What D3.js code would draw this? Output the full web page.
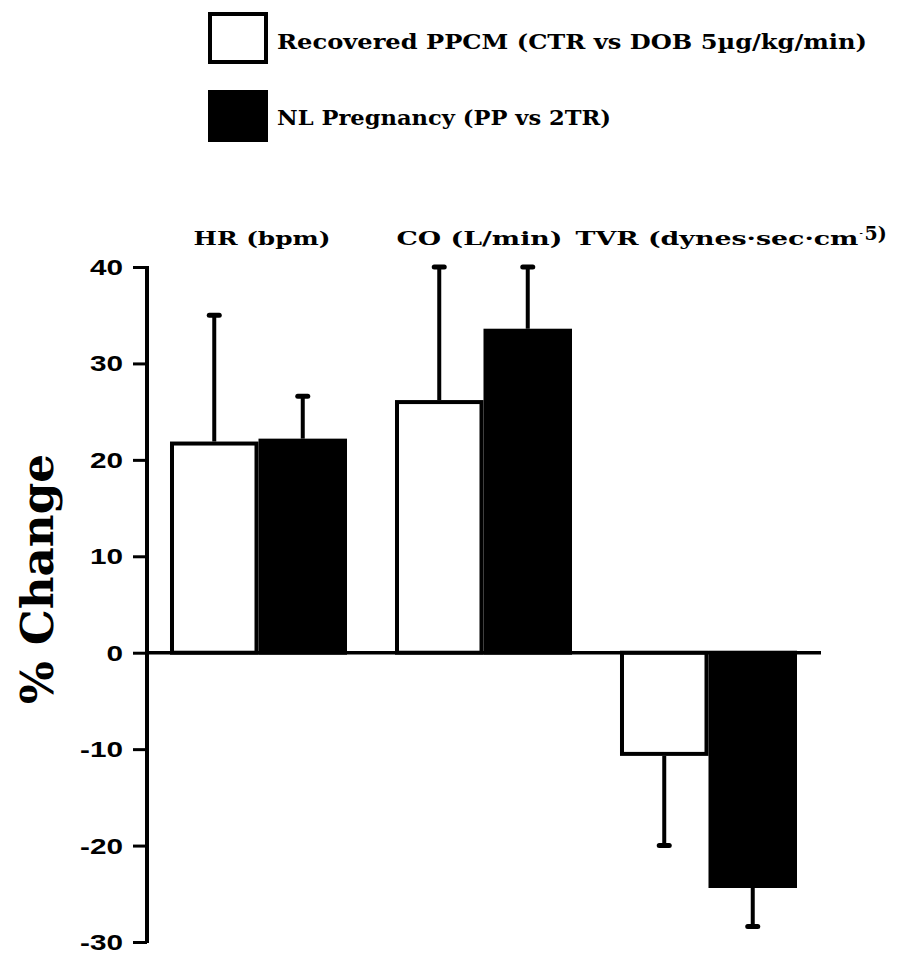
<!DOCTYPE html>
<html>
<head>
<meta charset="utf-8">
<script src="https://cdn.jsdelivr.net/npm/d3@7"></script>
<style>
  html, body { margin: 0; padding: 0; background: #fff; }
  svg { display: block; }
</style>
</head>
<body>
<div id="chart"></div>
<script>
// Haemodynamic % change: recovered PPCM vs normal pregnancy
const categories = ["HR", "CO", "TVR"];
const series = ["Recovered PPCM (CTR vs DOB 5\u00b5g/kg/min)", "NL Pregnancy (PP vs 2TR)"];
const recoveredMean = [21.9, 26.2, -10.7];
const recoveredErr  = [13.1, 13.8, 9.3];
const pregnancyMean = [22.2, 33.6, -24.4];
const pregnancyErr  = [4.4, 6.4, 4.0];
const yTicks = [40, 30, 20, 10, 0, -10, -20, -30];

const W = 899, H = 958;
const svg = d3.select("#chart").append("svg").attr("width", W).attr("height", H);

const y = d3.scaleLinear().domain([-30, 40]).range([942, 267]);
const x0 = d3.scaleBand().domain(categories).range([147.5, 819.5])
  .paddingInner(0.2133).paddingOuter(0.1);
const x1 = d3.scaleBand().domain([0, 1]).range([0, x0.bandwidth()]);

const serif = "'DejaVu Serif', 'Liberation Serif', serif";
const sans = "'Liberation Sans', Arial, sans-serif";

// Legend
const legend = [
  { label: series[0], fill: "#fff", y: 12, tl: 590, ty: 49 },
  { label: series[1], fill: "#000", y: 90, tl: 334, ty: 125 }
];
legend.forEach(d => {
  svg.append("rect").attr("x", 210).attr("y", d.y + 2).attr("width", 56).attr("height", 48)
    .attr("fill", d.fill).attr("stroke", "#000").attr("stroke-width", 4);
  svg.append("text").attr("x", 277).attr("y", d.ty)
    .attr("font-family", serif).attr("font-weight", "bold").attr("font-size", 21)
    .attr("textLength", d.tl).attr("lengthAdjust", "spacingAndGlyphs")
    .text(d.label);
});

// Category headers
const heads = [
  { cat: "HR", text: "HR (bpm)", dx: -65, tl: 137 },
  { cat: "CO", text: "CO (L/min)", dx: -87, tl: 166 },
  { cat: "TVR", text: "TVR (dynes\u00b7sec\u00b7cm", dx: -133, tl: 283 }
];
heads.forEach(h => {
  const x = x0(h.cat) + x0.bandwidth() / 2 + h.dx;
  svg.append("text").attr("x", x).attr("y", 245)
    .attr("font-family", serif).attr("font-weight", "bold").attr("font-size", 19)
    .attr("textLength", h.tl).attr("lengthAdjust", "spacingAndGlyphs")
    .text(h.text);
  if (h.cat === "TVR") {
    svg.append("text").attr("x", x + h.tl + 1).attr("y", 236)
      .attr("font-family", serif).attr("font-weight", "bold").attr("font-size", 8)
      .text("-");
    svg.append("text").attr("x", x + h.tl + 6).attr("y", 240)
      .attr("font-family", serif).attr("font-weight", "bold").attr("font-size", 19)
      .text("5)");
  }
});

// Bars
const rows = categories.map((c, i) => ({
  cat: c,
  vals: [
    { s: 0, v: recoveredMean[i], e: recoveredErr[i] },
    { s: 1, v: pregnancyMean[i], e: pregnancyErr[i] }
  ]
}));

const groups = svg.append("g").selectAll("g").data(rows).join("g")
  .attr("transform", d => `translate(${x0(d.cat)},0)`);

// error bars (drawn first so the bar edge sits over the stem base)
groups.selectAll("g.err").data(d => d.vals).join("g").attr("class", "err").each(function(d) {
  const g = d3.select(this);
  const cx = x1(d.s) + x1.bandwidth() / 2;
  const end = d.v >= 0 ? d.v + d.e : d.v - d.e;
  g.append("line").attr("x1", cx).attr("x2", cx).attr("y1", y(d.v)).attr("y2", y(end))
    .attr("stroke", "#000").attr("stroke-width", 4);
  g.append("line").attr("x1", cx - 5).attr("x2", cx + 5).attr("y1", y(end)).attr("y2", y(end))
    .attr("stroke", "#000").attr("stroke-width", 5).attr("stroke-linecap", "round");
});

groups.selectAll("rect").data(d => d.vals).join("rect")
  .attr("x", d => x1(d.s) + 2)
  .attr("width", x1.bandwidth() - 4)
  .attr("y", d => (d.v >= 0 ? y(d.v) + 2 : y(0)))
  .attr("height", d => Math.abs(y(d.v) - y(0)) - 2)
  .attr("fill", d => d.s === 0 ? "#fff" : "#000")
  .attr("stroke", "#000").attr("stroke-width", 4);

// Zero line
svg.append("line").attr("x1", 147).attr("x2", 821).attr("y1", y(0)).attr("y2", y(0))
  .attr("stroke", "#000").attr("stroke-width", 3.5);

// Y axis
const tickLen = 14, tickPad = 10, stretch = 1.35;
const yAxis = d3.axisLeft(y).tickValues(yTicks).tickSize(tickLen).tickPadding(tickPad)
  .tickFormat(d => String(d));
const ga = svg.append("g").attr("transform", "translate(147,0)").call(yAxis);
ga.select(".domain").attr("stroke-width", 4).attr("d", `M0,${y(40) - 1}V${y(-30) + 1}`);
ga.selectAll(".tick line").attr("stroke-width", 3);
ga.selectAll(".tick text").attr("font-family", sans).attr("font-weight", "bold")
  .attr("font-size", 22).attr("fill", "#000").attr("dy", "0.34em")
  .attr("x", -(tickLen + tickPad) / stretch)
  .attr("transform", `scale(${stretch},1)`);

// Y title
svg.append("text").attr("transform", "translate(53,579) rotate(-90)")
  .attr("text-anchor", "middle").attr("font-family", serif).attr("font-weight", "bold")
  .attr("font-size", 44).attr("textLength", 250).attr("lengthAdjust", "spacingAndGlyphs")
  .text("% Change");
</script>
</body>
</html>
